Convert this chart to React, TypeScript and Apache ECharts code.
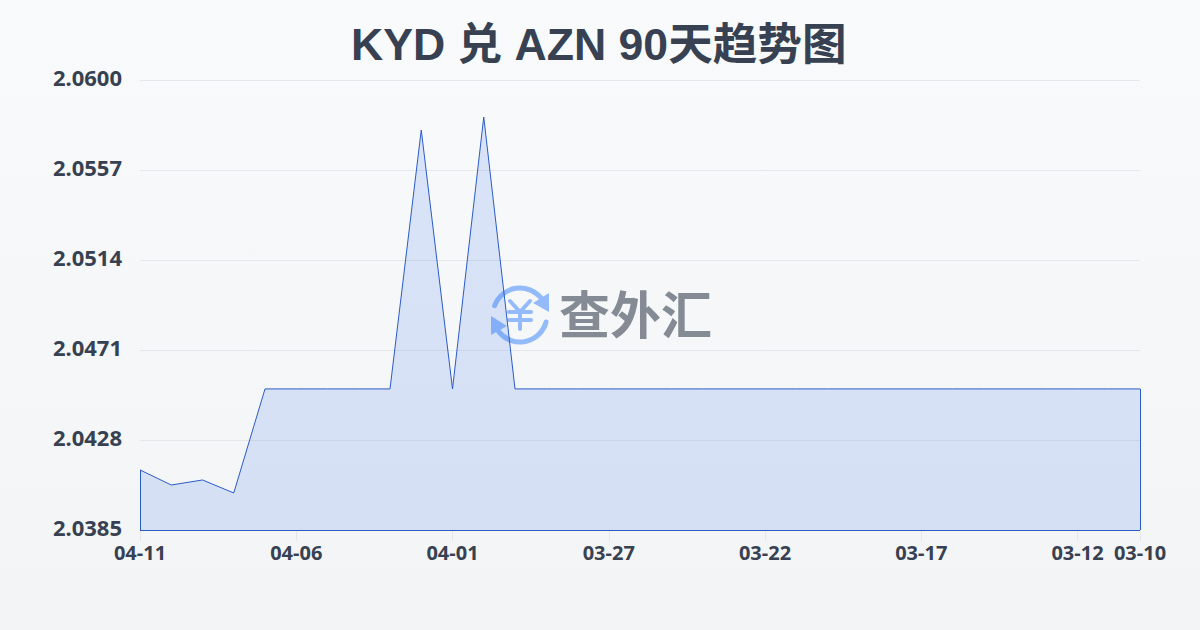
import React, { useEffect, useRef } from "react";
import * as echarts from "echarts";

const titleText = "KYD 兑 AZN 90天趋势图";
const watermarkText = "查外汇";
const dates = [
  "04-11", "04-10", "04-09", "04-08", "04-07", "04-06", "04-05", "04-04", "04-03", "04-02", "04-01",
  "03-31", "03-30", "03-29", "03-28", "03-27", "03-26", "03-25", "03-24", "03-23", "03-22",
  "03-21", "03-20", "03-19", "03-18", "03-17", "03-16", "03-15", "03-14", "03-13", "03-12", "03-11", "03-10",
];
const rates = [
  2.04137, 2.04065, 2.04089, 2.04027, 2.04524, 2.04524, 2.04524, 2.04524, 2.04524, 2.05761, 2.04524,
  2.05823, 2.04524, 2.04524, 2.04524, 2.04524, 2.04524, 2.04524, 2.04524, 2.04524, 2.04524,
  2.04524, 2.04524, 2.04524, 2.04524, 2.04524, 2.04524, 2.04524, 2.04524, 2.04524, 2.04524, 2.04524, 2.04524,
];
const yTicks = [2.0385, 2.0428, 2.0471, 2.0514, 2.0557, 2.06];
const xLabelDates = ["04-11", "04-06", "04-01", "03-27", "03-22", "03-17", "03-12", "03-10"];

const FONT = '"Noto Sans", "Noto Sans CJK SC", sans-serif';
const TITLE_FONT = '"Liberation Sans", "Noto Sans CJK SC", sans-serif';
const TEXT = "#374151";
const BLUE = "#2a5bc8";
const ICON = "#93bbfb";

export default function App() {
  const ref = useRef<HTMLDivElement>(null);
  useEffect(() => {
    document.body.style.margin = "0";
    const chart = echarts.init(ref.current!, null, { renderer: "svg", width: 1200, height: 630 });
    const first = dates[0];
    const last = dates[dates.length - 1];
    const yMin = yTicks[0];
    const showDate = (_: number, v: string) => xLabelDates.includes(v);
    chart.setOption({
      animation: false,
      backgroundColor: {
        type: "linear", x: 0, y: 0, x2: 0, y2: 1,
        colorStops: [{ offset: 0, color: "#f8fafc" }, { offset: 1, color: "#f3f4f6" }],
      },
      title: {
        text: titleText, left: 346, top: 17,
        textStyle: { fontFamily: TITLE_FONT, fontSize: 44.6, fontWeight: "bold", color: TEXT },
      },
      grid: { left: 140, right: 60, top: 80, bottom: 100 },
      xAxis: {
        type: "category", data: dates, boundaryGap: false,
        axisLine: { show: false },
        axisTick: { show: true, interval: showDate, length: 11, lineStyle: { color: "#e5e7eb" } },
        axisLabel: {
          interval: showDate, hideOverlap: false, margin: 12,
          fontFamily: FONT, fontSize: 20, fontWeight: "bold", color: TEXT,
        },
      },
      yAxis: {
        type: "value", min: yMin, max: yTicks[yTicks.length - 1],
        axisLine: { show: false },
        axisTick: { show: false, customValues: yTicks },
        splitLine: { show: true, lineStyle: { color: "#e5e7eb", width: 1 } },
        axisLabel: {
          customValues: yTicks, margin: 18,
          verticalAlign: "bottom", lineHeight: 6,
          formatter: (v: number) => v.toFixed(4),
          fontFamily: FONT, fontSize: 22, fontWeight: "bold", color: TEXT,
        },
      },
      graphic: [
        { type: "arc", z: 1, shape: { cx: 520, cy: 315, r: 27, startAngle: (200 * Math.PI) / 180, endAngle: (322 * Math.PI) / 180, clockwise: true }, style: { fill: "none", stroke: ICON, lineWidth: 5, lineCap: "round" } },
        { type: "arc", z: 1, shape: { cx: 520, cy: 315, r: 27, startAngle: (15 * Math.PI) / 180, endAngle: (142 * Math.PI) / 180, clockwise: true }, style: { fill: "none", stroke: ICON, lineWidth: 5, lineCap: "round" } },
        { type: "polygon", z: 1, shape: { points: [[549, 293], [549, 312], [533, 303]] }, style: { fill: ICON } },
        { type: "polygon", z: 1, shape: { points: [[491, 316], [491, 335], [507, 326]] }, style: { fill: ICON } },
        { type: "polyline", z: 1, shape: { points: [[510, 301], [520, 312], [530, 301]] }, style: { fill: "none", stroke: ICON, lineWidth: 4, lineCap: "round" } },
        { type: "line", z: 1, shape: { x1: 509, y1: 312, x2: 531, y2: 312 }, style: { stroke: ICON, lineWidth: 4, lineCap: "round" } },
        { type: "line", z: 1, shape: { x1: 509, y1: 320, x2: 531, y2: 320 }, style: { stroke: ICON, lineWidth: 4, lineCap: "round" } },
        { type: "line", z: 1, shape: { x1: 520, y1: 312, x2: 520, y2: 329 }, style: { stroke: ICON, lineWidth: 4, lineCap: "round" } },
        {
          type: "text", z: 1, x: 559, y: 288,
          style: { text: watermarkText, fontFamily: FONT, fontSize: 51, fontWeight: "bold", fill: "#858b94" },
        },
      ],
      series: [
        {
          type: "line", data: rates, showSymbol: false, symbol: "none", smooth: false, z: 3,
          lineStyle: { color: BLUE, width: 1 },
          areaStyle: { color: "rgba(37,99,235,0.14)", opacity: 1, origin: "start" },
          markLine: {
            silent: true, symbol: "none", label: { show: false }, animation: false,
            lineStyle: { color: BLUE, width: 1, type: "solid" },
            data: [
              [{ xAxis: first, yAxis: yMin }, { xAxis: first, yAxis: rates[0] }],
              [{ xAxis: first, yAxis: yMin }, { xAxis: last, yAxis: yMin }],
              [{ xAxis: last, yAxis: yMin }, { xAxis: last, yAxis: rates[rates.length - 1] }],
            ],
          },
        },
      ],
    });
    return () => chart.dispose();
  }, []);
  return <div ref={ref} style={{ width: 1200, height: 630, position: "fixed", left: 0, top: 0 }} />;
}
